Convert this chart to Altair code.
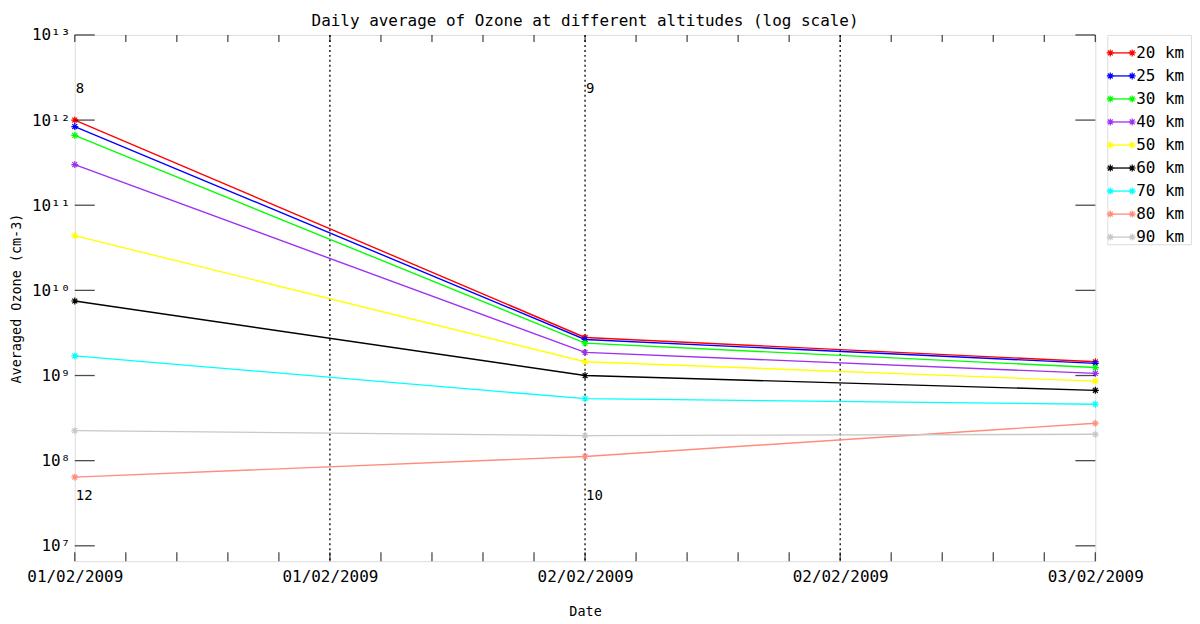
import json
import altair as alt
import pandas as pd

# ---------------- data ----------------
SERIES = ["20 km", "25 km", "30 km", "40 km", "50 km", "60 km", "70 km", "80 km", "90 km"]
COLORS = ["#ff0000", "#0000ff", "#00ff00", "#a030f0", "#ffff00", "#000000", "#00ffff", "#ff8c7c", "#c8c8c8"]
DAYS = [0, 1, 2]  # 01/02/2009, 02/02/2009, 03/02/2009
VAL_20 = [1.0e12, 2.8e9, 1.45e9]
VAL_25 = [8.4e11, 2.65e9, 1.39e9]
VAL_30 = [6.6e11, 2.4e9, 1.24e9]
VAL_40 = [3.0e11, 1.87e9, 1.06e9]
VAL_50 = [4.4e10, 1.45e9, 8.6e8]
VAL_60 = [7.5e9, 1.0e9, 6.7e8]
VAL_70 = [1.7e9, 5.35e8, 4.6e8]
VAL_80 = [6.4e7, 1.12e8, 2.75e8]
VAL_90 = [2.25e8, 1.97e8, 2.04e8]
ALL_VALUES = [VAL_20, VAL_25, VAL_30, VAL_40, VAL_50, VAL_60, VAL_70, VAL_80, VAL_90]

XTICK_VALUES = [0, 0.5, 1, 1.5, 2]
XTICK_LABELS = ["01/02/2009", "01/02/2009", "02/02/2009", "02/02/2009", "03/02/2009"]
XMINOR = [i / 10 for i in range(21)]
VLINES = [0.5, 1.0, 1.5]

YTICK_VALUES = [1e7, 1e8, 1e9, 1e10, 1e11, 1e12, 1e13]
YTICK_LABELS = ["10⁷", "10⁸", "10⁹", "10¹⁰", "10¹¹", "10¹²", "10¹³"]
YMIN, YMAX = 6.6e6, 1e13

ANNOT_TEXT = ["8", "9", "12", "10"]
ANNOT_X = [0, 1, 0, 1]
ANNOT_Y = [2.33e12, 2.33e12, 3.84e7, 3.84e7]

TITLE = "Daily average of Ozone at different altitudes (log scale)"
XTITLE = "Date"
YTITLE = "Averaged Ozone (cm-3)"

FONT = "DejaVu Sans Mono"
ASTERISK = "M-1,0L1,0M0,-1L0,1M-0.7,-0.7L0.7,0.7M-0.7,0.7L0.7,-0.7"

# ---------------- tables ----------------
rows = []
for name, vals in zip(SERIES, ALL_VALUES):
    for d, v in zip(DAYS, vals):
        rows.append({"series": name, "day": d, "value": v})
df = pd.DataFrame(rows)

df_vl = pd.DataFrame({"x": VLINES})
df_ann = pd.DataFrame({"text": ANNOT_TEXT, "day": ANNOT_X, "value": ANNOT_Y})
df_yt = pd.DataFrame({"value": YTICK_VALUES})
df_xt = pd.DataFrame({"day": XMINOR})
df_leg = pd.DataFrame({"series": SERIES, "idx": list(range(len(SERIES)))})

W, H = 1024, 528

xscale = alt.Scale(domain=[0, 2], nice=False, zero=False)
yscale = alt.Scale(type="log", domain=[YMIN, YMAX], nice=False)
cscale = alt.Scale(domain=SERIES, range=COLORS)

xlab_expr = f"{json.dumps(XTICK_LABELS)}[round(datum.value*2)]"
ylab_expr = f"{json.dumps(YTICK_LABELS, ensure_ascii=False)}[round(log(datum.value)/LN10) - 7]"

x_enc = alt.X(
    "day:Q", scale=xscale,
    axis=alt.Axis(values=XTICK_VALUES, labelExpr=xlab_expr, title=XTITLE,
                  ticks=False, domain=False, grid=False, labelPadding=7,
                  labelFont=FONT, labelFontSize=16, labelColor="black",
                  titleFont=FONT, titleFontSize=13.5, titleFontWeight="normal",
                  titleColor="black", titlePadding=21, labelFlush=False),
)
y_enc = alt.Y(
    "value:Q", scale=yscale,
    axis=alt.Axis(values=YTICK_VALUES, labelExpr=ylab_expr, title=YTITLE,
                  ticks=False, domain=False, grid=False, labelPadding=5,
                  labelFont=FONT, labelFontSize=16, labelColor="black",
                  titleFont=FONT, titleFontSize=13.5, titleFontWeight="normal",
                  titleColor="black", titlePadding=8, labelFlush=False),
)

base = alt.Chart(df)
lines = base.mark_line(strokeWidth=1.4).encode(
    x=x_enc, y=y_enc,
    color=alt.Color("series:N", scale=cscale, legend=None),
    detail="series:N",
)
points = base.mark_point(shape=ASTERISK, filled=False, size=49, strokeWidth=1.2, opacity=1).encode(
    x="day:Q", y="value:Q",
    color=alt.Color("series:N", scale=cscale, legend=None),
)
vrules = alt.Chart(df_vl).mark_rule(color="black", strokeDash=[2, 3], strokeWidth=1.3).encode(
    x=alt.X("x:Q", scale=xscale)
)
ann = alt.Chart(df_ann).mark_text(align="left", baseline="middle", dx=1, font=FONT,
                                  fontSize=14, color="black").encode(
    x="day:Q", y="value:Q", text="text:N"
)
ytick_l = alt.Chart(df_yt).mark_tick(orient="horizontal", size=20, thickness=1.3, color="black").encode(
    y="value:Q", x=alt.value(10)
)
ytick_r = alt.Chart(df_yt).mark_tick(orient="horizontal", size=20, thickness=1.3, color="black").encode(
    y="value:Q", x=alt.value(W - 10)
)
xtick_t = alt.Chart(df_xt).mark_tick(orient="vertical", size=7, thickness=1.3, color="black").encode(
    x="day:Q", y=alt.value(3.5)
)
xtick_b = alt.Chart(df_xt).mark_tick(orient="vertical", size=9, thickness=1.3, color="black").encode(
    x="day:Q", y=alt.value(H - 4.5)
)

main = alt.layer(vrules, lines, points, ann, ytick_l, ytick_r, xtick_t, xtick_b).properties(
    width=W, height=H,
    title=alt.TitleParams(TITLE, font=FONT, fontSize=16, fontWeight="normal", color="black",
                          anchor="middle", frame="group", offset=-2),
)

# ---------------- legend panel ----------------
LW, LH = 84, 210
leg_y = alt.Y("idx:Q", scale=alt.Scale(domain=[-0.78, 8.31], reverse=True, nice=False, zero=False), axis=None)
leg_base = alt.Chart(df_leg)
leg_line = leg_base.mark_rule(strokeWidth=1.3).encode(
    y=leg_y, x=alt.value(3), x2=alt.value(25),
    color=alt.Color("series:N", scale=cscale, legend=None),
)
leg_p1 = leg_base.mark_point(shape=ASTERISK, filled=False, size=49, strokeWidth=1.2, opacity=1).encode(
    y=leg_y, x=alt.value(3), color=alt.Color("series:N", scale=cscale, legend=None)
)
leg_p2 = leg_base.mark_point(shape=ASTERISK, filled=False, size=49, strokeWidth=1.2, opacity=1).encode(
    y=leg_y, x=alt.value(25), color=alt.Color("series:N", scale=cscale, legend=None)
)
leg_txt = leg_base.mark_text(align="left", baseline="middle", font=FONT, fontSize=16, color="black").encode(
    y=leg_y, x=alt.value(29), text="series:N"
)
legend = alt.layer(leg_line, leg_p1, leg_p2, leg_txt).properties(width=LW, height=LH)

chart = alt.hconcat(main, legend, spacing=12, bounds="flush").properties(
    padding={"left": 0, "top": 3, "right": 0, "bottom": 0}
).configure_view(stroke="black", strokeWidth=1.3).configure(background="white")

chart.save("out.html", embed_options={"renderer": "svg", "actions": False})
